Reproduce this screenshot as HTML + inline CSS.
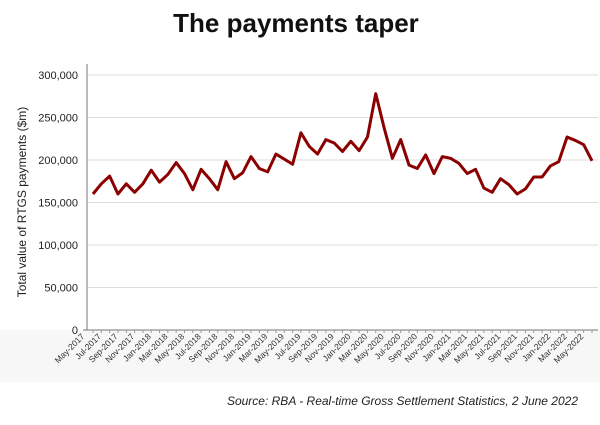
<!DOCTYPE html>
<html><head><meta charset="utf-8"><style>
body{margin:0;background:#fff;font-family:"Liberation Sans",sans-serif;}
svg text{font-family:"Liberation Sans",sans-serif;}
</style></head><body>
<svg width="600" height="420">
<rect x="0" y="330" width="600" height="52" fill="#f7f7f7"/>
<text x="296" y="32" font-size="26" font-weight="bold" text-anchor="middle" fill="#111">The payments taper</text>
<text transform="translate(26,202) rotate(-90)" font-size="12" text-anchor="middle" fill="#222">Total value of RTGS payments  ($m)</text>
<text x="578" y="405" font-size="12" font-style="italic" text-anchor="end" fill="#222">Source: RBA - Real-time Gross Settlement Statistics, 2 June 2022</text>
<g id="grid"></g><g id="axes"></g><g id="plot"></g>
</svg>
<script>
const months=["May","Jun","Jul","Aug","Sep","Oct","Nov","Dec","Jan","Feb","Mar","Apr"];
const startYear=2017;
const values=[160,172,181,160,172,162,172,188,174,183,197,184,165,189,178,165,198,178,185,204,190,186,207,201,195,232,216,207,224,220,210,222,211,227,278,238,202,224,194,190,206,184,204,202,196,184,189,167,162,178,171,160,166,180,180,193,198,227,223,218,199];
const yTicks=[0,50000,100000,150000,200000,250000,300000];
const NS="http://www.w3.org/2000/svg";
const x0=93,x1=592,yb=330,yt=75;
const xs=i=>x0+(x1-x0)*i/(values.length-1);
const ys=v=>yb-(yb-yt)*v/300000;
function mk(t,a,p){const e=document.createElementNS(NS,t);for(const k in a)e.setAttribute(k,a[k]);p.appendChild(e);return e;}
const grid=document.getElementById('grid'),axes=document.getElementById('axes'),plot=document.getElementById('plot');
yTicks.forEach(v=>{
 if(v>0){const l=mk('line',{x1:87,x2:598,y1:ys(v),y2:ys(v),stroke:'#ddd','stroke-width':1},grid);
 
 }
 const t=mk('text',{x:78,y:ys(v)+4,'font-size':11,'text-anchor':'end',fill:'#222'},axes);
 t.textContent=v.toLocaleString('en-US');
 
 
});
const ya=mk('line',{x1:87,x2:87,y1:64,y2:330,stroke:'#777'},axes);


const xa=mk('line',{x1:83,x2:598,y1:330,y2:330,stroke:'#777'},axes);


values.forEach((v,i)=>{
 const tk=mk('line',{x1:xs(i),x2:xs(i),y1:330,y2:333,stroke:'#999'},axes);
 
 
 if(i%2===0){
  const yr=startYear+Math.floor((i+4)/12);
  const t=mk('text',{transform:`translate(${xs(i)-8},337) rotate(-45)`,'font-size':8.5,'text-anchor':'end',fill:'#333'},axes);
  t.textContent=months[i%12]+'-'+yr;
  
  
 }
});
const p=mk('polyline',{points:values.map((v,i)=>xs(i)+','+ys(v*1000)).join(' '),fill:'none',stroke:'#8b0000','stroke-width':3,'stroke-linejoin':'round'},plot);


</script>
</body></html>
